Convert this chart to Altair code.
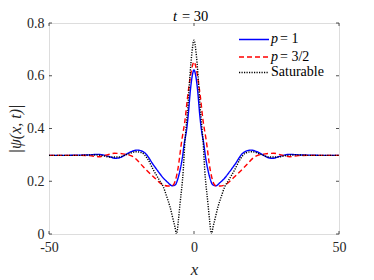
import altair as alt
import pandas as pd

# ---- data ----
x_p1 = [-50, -45, -40, -36, -33, -30, -27, -25, -23, -21, -19.5, -17, -14, -12, -10.5, -9, -7.5, -6.5, -5.5, -4.8, -4, -3.4, -2.5, -2, -1.2, -0.6, 0,
        0.6, 1.2, 2, 2.5, 3.4, 4, 4.8, 5.5, 6.5, 7.5, 9, 10.5, 12, 14, 17, 19.5, 21, 23, 25, 27, 30, 33, 36, 40, 45, 50]
y_p1 = [0.298, 0.298, 0.299, 0.300, 0.302, 0.296, 0.287, 0.292, 0.305, 0.315, 0.318, 0.308, 0.262, 0.232, 0.211, 0.195, 0.183, 0.186, 0.212, 0.243, 0.29, 0.34, 0.40, 0.45, 0.55, 0.60, 0.622,
        0.60, 0.55, 0.45, 0.40, 0.34, 0.29, 0.243, 0.212, 0.186, 0.183, 0.195, 0.211, 0.232, 0.262, 0.308, 0.318, 0.315, 0.305, 0.292, 0.287, 0.296, 0.302, 0.300, 0.299, 0.298, 0.298]

x_p32 = [-50, -40, -36, -33, -30, -27.5, -24.5, -21, -17.5, -14, -10.6, -9, -7.5, -6.5, -5.6, -4.2, -3.1, -2.2, -1.2, -0.5, 0,
         0.5, 1.2, 2.2, 3.1, 4.2, 5.6, 6.5, 7.5, 9, 10.6, 14, 17.5, 21, 24.5, 27.5, 30, 33, 36, 40, 50]
y_p32 = [0.298, 0.298, 0.297, 0.293, 0.300, 0.306, 0.304, 0.293, 0.255, 0.217, 0.186, 0.182, 0.183, 0.20, 0.243, 0.356, 0.432, 0.52, 0.60, 0.64, 0.653,
         0.64, 0.60, 0.52, 0.432, 0.356, 0.243, 0.20, 0.183, 0.182, 0.186, 0.217, 0.255, 0.293, 0.304, 0.306, 0.300, 0.293, 0.297, 0.298, 0.298]

x_sat = [-50, -40, -35, -32, -29, -26, -23, -20, -18, -16, -14, -12, -10.6, -9.5, -8.3, -7.2, -6.6, -6.0, -5.4, -4.8, -3.7, -3.1, -2.8, -2, -1.4, -0.7, 0,
         0.7, 1.4, 2, 2.8, 3.1, 3.7, 4.8, 5.4, 6.0, 6.6, 7.2, 8.3, 9.5, 10.6, 12, 14, 16, 18, 20, 23, 26, 29, 32, 35, 40, 50]
y_sat = [0.298, 0.298, 0.300, 0.298, 0.292, 0.292, 0.302, 0.312, 0.308, 0.285, 0.243, 0.205, 0.179, 0.145, 0.104, 0.055, 0.028, 0.0, 0.05, 0.116, 0.243, 0.356, 0.394, 0.50, 0.60, 0.69, 0.735,
         0.69, 0.60, 0.50, 0.394, 0.356, 0.243, 0.116, 0.05, 0.0, 0.028, 0.055, 0.104, 0.145, 0.179, 0.205, 0.243, 0.285, 0.308, 0.312, 0.302, 0.292, 0.292, 0.298, 0.300, 0.298, 0.298]

series_names = ["p1", "p32", "sat"]
series_colors = ["#0000ff", "#ff0000", "#000000"]
series_dash = [[1, 0], [5, 3], [1.2, 1.3]]

x_ticks = [-50, 0, 50]
y_ticks = [0, 0.2, 0.4, 0.6, 0.8]

W, H = 290, 211
FONT = "Liberation Serif"
INK = "#262626"

df = pd.concat([
    pd.DataFrame({"x": x_p1, "y": y_p1, "s": "p1"}),
    pd.DataFrame({"x": x_p32, "y": y_p32, "s": "p32"}),
    pd.DataFrame({"x": x_sat, "y": y_sat, "s": "sat"}),
], ignore_index=True)

xs = alt.Scale(domain=[-50, 50], nice=False, zero=False)
ys = alt.Scale(domain=[0, 0.8], nice=False, zero=False)

xa = alt.Axis(
    values=x_ticks, labelExpr="'' + datum.value", ticks=False, domain=False, grid=False,
    labelFont=FONT, labelFontSize=14, labelColor=INK, labelPadding=6, labelFlush=False,
    title="x", titleFont=FONT, titleFontStyle="italic", titleFontSize=17, titleFontWeight="normal",
    titleColor=INK, titleX=145, titleY=35, titleBaseline="middle", titleAlign="center")
ya = alt.Axis(
    values=y_ticks, labelExpr="datum.value == 0 ? '0' : format(datum.value, '.1f')",
    ticks=False, domain=False, grid=False,
    labelFont=FONT, labelFontSize=14, labelColor=INK, labelPadding=5, labelFlush=False,
    title="|ψ(x, t)|", titleFont=FONT, titleFontStyle="italic", titleFontSize=16, titleFontWeight="normal",
    titleColor=INK, titleX=-34, titleY=H / 2, titleAngle=270, titleBaseline="middle", titleAlign="center")

lines = alt.Chart(df).mark_line(interpolate="monotone", strokeWidth=1.4, clip=True).encode(
    x=alt.X("x:Q", scale=xs, axis=xa),
    y=alt.Y("y:Q", scale=ys, axis=ya),
    color=alt.Color("s:N", scale=alt.Scale(domain=series_names, range=series_colors), legend=None),
    strokeDash=alt.StrokeDash("s:N", scale=alt.Scale(domain=series_names, range=series_dash), legend=None),
)

xt = pd.DataFrame({"x": x_ticks})
yt = pd.DataFrame({"y": y_ticks})
TL = 3
tick_layers = [
    alt.Chart(xt).mark_rule(color=INK, strokeWidth=0.8).encode(x=alt.X("x:Q", scale=xs, axis=xa), y=alt.value(H), y2=alt.value(H - TL)),
    alt.Chart(xt).mark_rule(color=INK, strokeWidth=0.8).encode(x=alt.X("x:Q", scale=xs, axis=xa), y=alt.value(0), y2=alt.value(TL)),
    alt.Chart(yt).mark_rule(color=INK, strokeWidth=0.8).encode(y=alt.Y("y:Q", scale=ys, axis=ya), x=alt.value(0), x2=alt.value(TL)),
    alt.Chart(yt).mark_rule(color=INK, strokeWidth=0.8).encode(y=alt.Y("y:Q", scale=ys, axis=ya), x=alt.value(W), x2=alt.value(W - TL)),
]

one = alt.Data(values=[{"k": 1}])


def txt(s, x, y, size, italic=False, align="left", baseline="middle"):
    return alt.Chart(one).mark_text(
        text=s, font=FONT, fontSize=size, fontStyle="italic" if italic else "normal",
        align=align, baseline=baseline, color="#000000"
    ).encode(x=alt.value(x), y=alt.value(y))


def leg_line(i, y):
    return alt.Chart(one).mark_rule(
        color=series_colors[i], strokeDash=series_dash[i], strokeWidth=1.4
    ).encode(x=alt.value(190), x2=alt.value(220), y=alt.value(y))


title_layers = [
    txt("t", 128, -2.5, 14.5, italic=True, align="right", baseline="alphabetic"),
    txt("= 30", 133, -2.5, 14.5, baseline="alphabetic"),
]

legend_layers = [
    leg_line(0, 16.5), txt("p", 222, 16, 14, italic=True), txt("= 1", 231, 16, 14),
    leg_line(1, 34), txt("p", 222, 33.5, 14, italic=True), txt("= 3/2", 231, 33.5, 14),
    leg_line(2, 49.5), txt("Saturable", 222, 49, 14),
]

chart = alt.layer(lines, *tick_layers, *title_layers, *legend_layers).properties(
    width=W, height=H,
    padding={"left": 41, "top": 15, "right": 27, "bottom": 46},
    autosize="none",
).configure_view(stroke="#808080", strokeWidth=1).configure(background="white")

chart.save("out.html", embed_options={"renderer": "svg", "actions": False})
